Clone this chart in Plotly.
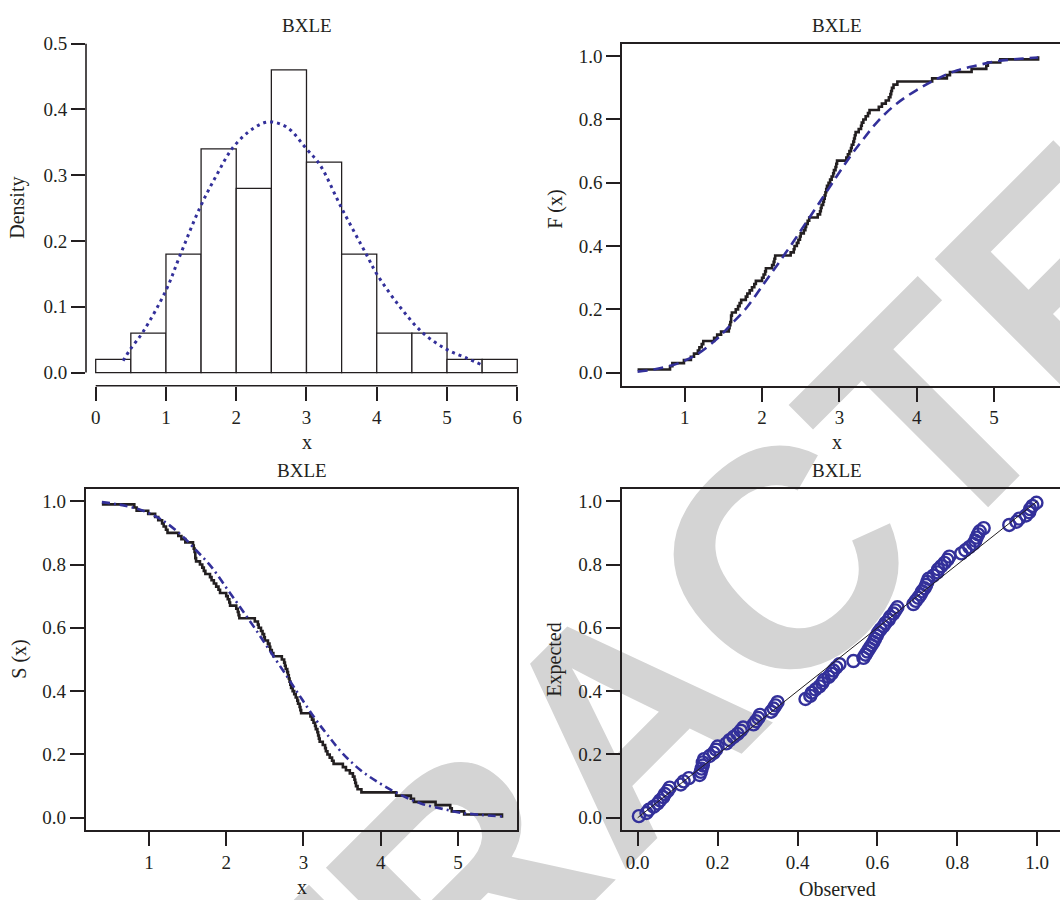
import numpy as np
import plotly.graph_objects as go

# ---------------- data ----------------
# Histogram (panel 1)
bin_edges = [0.0, 0.5, 1.0, 1.5, 2.0, 2.5, 3.0, 3.5, 4.0, 4.5, 5.0, 5.5, 6.0]
bin_density = [0.02, 0.06, 0.18, 0.34, 0.28, 0.46, 0.32, 0.18, 0.06, 0.06, 0.02, 0.02]

# fitted density curve
dens_x = [0.39, 0.49, 0.68, 1.00, 1.20, 1.48, 1.72, 1.96, 2.24, 2.46, 2.72, 3.00,
          3.19, 3.50, 3.86, 4.00, 4.33, 4.66, 5.00, 5.28, 5.49]
dens_y = [0.018, 0.035, 0.063, 0.125, 0.178, 0.250, 0.300, 0.343, 0.371, 0.381, 0.373, 0.340,
          0.316, 0.250, 0.178, 0.150, 0.100, 0.060, 0.035, 0.022, 0.012]

# sorted sample (n = 100), read from the empirical CDF / survival steps
sample = [0.39, 0.81, 0.84, 0.99, 1.08, 1.12, 1.17, 1.19, 1.22, 1.24,
          1.38, 1.42, 1.47, 1.57, 1.58, 1.59, 1.60, 1.60, 1.61, 1.66,
          1.69, 1.71, 1.73, 1.79, 1.81, 1.84, 1.87, 1.90, 1.92, 2.00,
          2.02, 2.04, 2.05, 2.13, 2.15, 2.16, 2.17, 2.37, 2.41, 2.42,
          2.45, 2.47, 2.49, 2.50, 2.54, 2.56, 2.57, 2.59, 2.61, 2.72,
          2.75, 2.76, 2.77, 2.79, 2.80, 2.81, 2.82, 2.83, 2.84, 2.86,
          2.88, 2.90, 2.92, 2.93, 2.95, 2.96, 2.97, 3.09, 3.11, 3.13,
          3.15, 3.16, 3.18, 3.19, 3.20, 3.21, 3.25, 3.28, 3.29, 3.31,
          3.34, 3.37, 3.39, 3.51, 3.55, 3.60, 3.64, 3.66, 3.67, 3.68,
          3.70, 3.75, 4.20, 4.39, 4.43, 4.71, 4.90, 4.92, 5.08, 5.57]

# fitted CDF curve
fit_x = [0.39, 0.60, 0.85, 1.00, 1.16, 1.41, 1.59, 1.80, 2.02, 2.19, 2.40, 2.58,
         2.79, 2.97, 3.16, 3.31, 3.50, 3.74, 4.00, 4.26, 4.52, 4.80, 5.03, 5.30, 5.57]
fit_cdf = [0.003, 0.010, 0.024, 0.038, 0.058, 0.105, 0.150, 0.205, 0.280, 0.338, 0.412, 0.478,
           0.555, 0.622, 0.690, 0.738, 0.795, 0.850, 0.893, 0.928, 0.955, 0.972, 0.984, 0.991, 0.996]

# P-P plot: observed (fitted CDF at each sample point), read from the circles
pp_observed = [0.003, 0.022, 0.028, 0.040, 0.050, 0.056, 0.064, 0.068, 0.075, 0.080,
               0.108, 0.115, 0.128, 0.155, 0.158, 0.160, 0.163, 0.163, 0.166, 0.180,
               0.190, 0.196, 0.200, 0.222, 0.230, 0.240, 0.250, 0.258, 0.264, 0.290,
               0.296, 0.302, 0.306, 0.334, 0.340, 0.345, 0.350, 0.420, 0.432, 0.436,
               0.445, 0.455, 0.462, 0.466, 0.478, 0.485, 0.490, 0.497, 0.505, 0.540,
               0.565, 0.570, 0.575, 0.580, 0.585, 0.590, 0.594, 0.598, 0.602, 0.608,
               0.615, 0.620, 0.628, 0.632, 0.640, 0.645, 0.650, 0.690, 0.696, 0.702,
               0.708, 0.712, 0.718, 0.722, 0.725, 0.728, 0.740, 0.750, 0.752, 0.760,
               0.768, 0.775, 0.780, 0.810, 0.820, 0.830, 0.840, 0.845, 0.848, 0.852,
               0.856, 0.866, 0.930, 0.948, 0.955, 0.972, 0.980, 0.982, 0.988, 0.998]

panel_title = "BXLE"

# ---------------- derived ----------------
n = len(sample)
ranks = np.arange(1, n + 1)
ecdf = ranks / n
surv = 1 - ecdf
pp_expected = (ranks - 0.5) / n
fit_surv = [1 - v for v in fit_cdf]
edges = np.array(bin_edges)
centers = (edges[:-1] + edges[1:]) / 2
widths = edges[1:] - edges[:-1]

# ---------------- style ----------------
W, H = 1060, 900
INK = "#231f20"
BLUE = "#33309a"
WM = "#d4d4d4"
SERIF = "Liberation Serif"


def px(x):
    return x / W


def py(y):
    return 1 - y / H


fig = go.Figure()

# panel 1
fig.add_trace(go.Bar(x=centers, y=bin_density, width=widths,
                     marker=dict(color="white", line=dict(color=INK, width=1.3)),
                     xaxis="x", yaxis="y", showlegend=False))
fig.add_trace(go.Scatter(x=dens_x, y=dens_y, mode="lines",
                         line=dict(color=BLUE, width=3, dash="3px,4px", shape="spline"),
                         xaxis="x", yaxis="y", showlegend=False))
# panel 2
fig.add_trace(go.Scatter(x=sample, y=ecdf, mode="lines",
                         line=dict(color=INK, width=2.6, shape="hv"),
                         xaxis="x2", yaxis="y2", showlegend=False))
fig.add_trace(go.Scatter(x=fit_x, y=fit_cdf, mode="lines",
                         line=dict(color=BLUE, width=2.6, dash="10px,6px", shape="spline"),
                         xaxis="x2", yaxis="y2", showlegend=False))
# panel 3
fig.add_trace(go.Scatter(x=sample, y=surv, mode="lines",
                         line=dict(color=INK, width=2.6, shape="hv"),
                         xaxis="x3", yaxis="y3", showlegend=False))
fig.add_trace(go.Scatter(x=fit_x, y=fit_surv, mode="lines",
                         line=dict(color=BLUE, width=2.6, dash="8px,4px,2px,4px", shape="spline"),
                         xaxis="x3", yaxis="y3", showlegend=False))
# panel 4
fig.add_trace(go.Scatter(x=pp_observed, y=pp_expected, mode="markers",
                         marker=dict(symbol="circle-open", size=12, color=BLUE,
                                     line=dict(width=2.4, color=BLUE)),
                         xaxis="x4", yaxis="y4", showlegend=False))
fig.add_trace(go.Scatter(x=[0, 1], y=[0, 1], mode="lines",
                         line=dict(color=INK, width=1),
                         xaxis="x4", yaxis="y4", showlegend=False))

tickfont = dict(family=SERIF, size=19, color=INK)
common = dict(showgrid=False, zeroline=False, ticks="outside", ticklen=14, tickwidth=1.5,
              tickcolor=INK, linecolor=INK, linewidth=1.6, tickfont=tickfont, fixedrange=True)

top_dom = [py(380), py(34)]
bot_dom = [py(829.3), py(484)]

fig.update_layout(
    width=W, height=H, margin=dict(l=0, r=0, t=0, b=0),
    paper_bgcolor="white", plot_bgcolor="rgba(0,0,0,0)",
    showlegend=False,
    xaxis=dict(common, domain=[px(86), px(530)], range=[-0.138, 6.181], anchor="y",
               tickvals=[0, 1, 2, 3, 4, 5, 6], showline=False),
    yaxis=dict(common, domain=top_dom, range=[-0.020, 0.5], anchor="x",
               tickvals=[0, 0.1, 0.2, 0.3, 0.4, 0.5], tickformat=".1f", showline=False),
    xaxis2=dict(common, domain=[px(622), 1.0], range=[0.189, 5.853], anchor="y2",
                tickvals=[1, 2, 3, 4, 5], showline=True, mirror=True),
    yaxis2=dict(common, domain=top_dom, range=[-0.0416, 1.0397], anchor="x2",
                tickvals=[0, 0.2, 0.4, 0.6, 0.8, 1.0], tickformat=".1f", showline=True),
    xaxis3=dict(common, domain=[px(85.7), px(517.3)], range=[0.181, 5.768], anchor="y3",
                tickvals=[1, 2, 3, 4, 5], showline=True, mirror=True),
    yaxis3=dict(common, domain=bot_dom, range=[-0.039, 1.0397], anchor="x3",
                tickvals=[0, 0.2, 0.4, 0.6, 0.8, 1.0], tickformat=".1f", showline=True, mirror=True),
    xaxis4=dict(common, domain=[px(621.7), 1.0], range=[-0.040, 1.057], anchor="y4",
                tickvals=[0, 0.2, 0.4, 0.6, 0.8, 1.0], tickformat=".1f", showline=True, mirror=True),
    yaxis4=dict(common, domain=bot_dom, range=[-0.039, 1.0397], anchor="x4",
                tickvals=[0, 0.2, 0.4, 0.6, 0.8, 1.0], tickformat=".1f", showline=True),
)

# R-style detached axis lines for the histogram
fig.add_shape(type="line", xref="paper", yref="y", x0=px(86), x1=px(86), y0=0, y1=0.5,
              line=dict(color=INK, width=1.6))
fig.add_shape(type="line", xref="x", yref="paper", x0=0, x1=6, y0=py(380), y1=py(380),
              line=dict(color=INK, width=1.6))

# watermark, behind everything
cx, cy = 603, 697
fig.add_shape(type="line", xref="paper", yref="paper",
              x0=px(cx - 10), y0=py(cy + 10), x1=px(cx + 10), y1=py(cy - 10),
              line=dict(width=1, color="rgba(0,0,0,0)"), layer="below",
              label=dict(text="RETRACTED", textangle=-45, textposition="middle",
                         xanchor="center", yanchor="middle", padding=0,
                         font=dict(family="Liberation Sans", size=310, color=WM, weight="bold")))

# text: titles and axis labels
def ann(text, x, y, size=19, angle=0):
    fig.add_annotation(text=text, x=px(x), y=py(y), xref="paper", yref="paper",
                       showarrow=False, xanchor="center", yanchor="middle", textangle=angle,
                       font=dict(family=SERIF, size=size, color=INK))

ann(panel_title, 307, 16)
ann(panel_title, 837, 16)
ann(panel_title, 302, 466)
ann(panel_title, 837, 466)
ann("x", 307, 437, 20)
ann("x", 837, 437, 20)
ann("x", 302, 887, 20)
ann("Observed", 837, 889, 20)
ann("Density", 18, 200, 20, -90)
ann("F (x)", 556, 202, 20, -90)
ann("S (x)", 20, 657, 20, -90)
ann("Expected", 555, 657, 20, -90)

fig.write_html(
    "out.html",
    config={"displayModeBar": False},
    post_script="document.body.style.margin='0px';document.body.style.overflow='hidden';",
)
